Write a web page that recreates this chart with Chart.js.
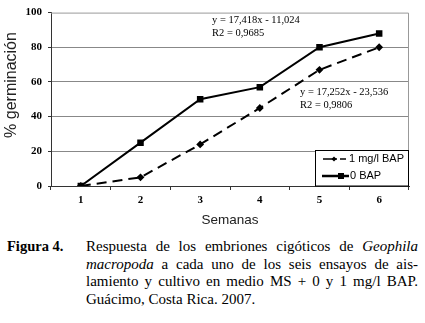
<!DOCTYPE html>
<html>
<head>
<meta charset="utf-8">
<script src="https://cdn.jsdelivr.net/npm/chart.js@4"></script>
<style>
  body { margin: 0; background: #fff; width: 425px; height: 323px; overflow: hidden; position: relative; }
  #wrap { position: absolute; left: 0; top: 0; width: 425px; height: 230px; }
  #fig { position: absolute; left: 7px; top: 238px; font: bold 14.5px/17.5px "Liberation Serif", serif; }
  #cap { position: absolute; left: 86px; top: 238px; width: 332px; font: 15px/17.5px "Liberation Serif", serif; }
  #cap div { text-align: justify; text-align-last: justify; white-space: nowrap; }
  #cap div:last-child { text-align-last: left; }
</style>
</head>
<body>
<div id="wrap"><canvas id="germChart" width="425" height="230"></canvas></div>
<div id="fig">Figura 4.</div>
<div id="cap">
  <div>Respuesta de los embriones cigóticos de <i>Geophila</i></div>
  <div><i>macropoda</i> a cada uno de los seis ensayos de ais-</div>
  <div>lamiento y cultivo en medio MS + 0 y 1 mg/l BAP.</div>
  <div>Guácimo, Costa Rica. 2007.</div>
</div>
<script>
const semanas = ['1', '2', '3', '4', '5', '6'];
const bap1_data = [0, 5, 24, 45, 67, 80];
const bap0_data = [0, 25, 50, 57, 80, 88];
const series_labels = ['1 mg/l BAP', '0 BAP'];
const y_title = '% germinación';
const eq_bap0 = ['y = 17,418x - 11,024', 'R2 = 0,9685'];
const eq_bap1 = ['y = 17,252x - 23,536', 'R2 = 0,9806'];

const extras = {
    id: 'extras',
    afterDatasetsDraw(chart) {
        const c = chart.ctx;
        const a = chart.chartArea;
        c.save();
        // plot frame
        c.strokeStyle = '#999';
        c.lineWidth = 1;
        c.beginPath();
        c.moveTo(a.left, a.top + 0.5);
        c.lineTo(a.right - 0.5, a.top + 0.5);
        c.lineTo(a.right - 0.5, a.bottom);
        c.stroke();

        // y title (sits a bit above centre in the original)
        c.save();
        c.translate(12, 85);
        c.rotate(-Math.PI / 2);
        c.fillStyle = '#222';
        c.font = '16px "Liberation Sans", Arial, sans-serif';
        c.textAlign = 'center';
        c.textBaseline = 'middle';
        c.fillText(y_title, 0, 0);
        c.restore();

        // regression equations
        c.fillStyle = '#000';
        c.font = '10.5px "Liberation Serif", serif';
        c.textBaseline = 'middle';
        c.fillText(eq_bap0[0], 212, 20);
        c.fillText(eq_bap0[1], 212, 33);
        c.fillText(eq_bap1[0], 300, 92);
        c.fillText(eq_bap1[1], 300, 105);

        // legend
        const bx = 315.5, by = 150.5, bw = a.right - 0.5 - bx, bh = a.bottom - by;
        c.fillStyle = '#fff';
        c.fillRect(bx, by, bw, bh);
        c.strokeStyle = '#000';
        c.lineWidth = 1;
        c.strokeRect(bx, by, bw, bh);
        c.font = '11px "Liberation Sans", Arial, sans-serif';
        const rows = [159, 176];
        chart.data.datasets.forEach((ds, i) => {
            const y = rows[i];
            c.strokeStyle = '#000';
            c.fillStyle = '#000';
            if (i === 0) {
                c.lineWidth = 1.5;
                c.beginPath();
                c.moveTo(323, y); c.lineTo(337, y);
                c.moveTo(340, y); c.lineTo(346, y);
                c.stroke();
                c.beginPath();
                c.moveTo(334, y - 2.5); c.lineTo(336.5, y); c.lineTo(334, y + 2.5); c.lineTo(331.5, y);
                c.closePath(); c.fill();
                c.fillText(ds.label, 349, y);
            } else {
                c.lineWidth = 2.5;
                c.beginPath();
                c.moveTo(322, y); c.lineTo(349, y);
                c.stroke();
                c.fillRect(338, y - 3, 6, 6);
                c.fillText(ds.label, 350, y);
            }
        });
        c.restore();
    }
};

const ctx = document.getElementById('germChart').getContext('2d');
const germChart = new Chart(ctx, {
    type: 'line',
    data: {
        labels: semanas,
        datasets: [{
            label: series_labels[0],
            data: bap1_data,
            borderColor: '#000',
            backgroundColor: '#000',
            borderWidth: 2,
            borderDash: [10, 6],
            pointStyle: 'rectRot',
            pointRadius: 2.5,
            tension: 0
        }, {
            label: series_labels[1],
            data: bap0_data,
            borderColor: '#000',
            backgroundColor: '#000',
            borderWidth: 2,
            pointStyle: 'rect',
            pointRadius: 3.2,
            tension: 0
        }]
    },
    options: {
        responsive: false,
        animation: false,
        layout: { padding: { top: 12, right: 16, left: 0, bottom: 0 } },
        plugins: { legend: { display: false }, tooltip: { enabled: false } },
        scales: {
            x: {
                offset: true,
                grid: { offset: true, drawOnChartArea: false, drawTicks: true, tickLength: 4, color: '#333' },
                border: { color: '#333', width: 1 },
                ticks: { color: '#000', padding: 4, font: { family: '"Liberation Serif", serif', size: 11, weight: 'bold' } },
                title: { display: true, text: 'Semanas', color: '#222', padding: { top: 0, bottom: 2 }, font: { family: '"Liberation Sans", Arial, sans-serif', size: 13.5 } },
                afterFit: (scale) => { scale.height = 44; }
            },
            y: {
                min: 0,
                max: 100,
                ticks: { stepSize: 20, color: '#000', padding: 6, font: { family: '"Liberation Serif", serif', size: 11, weight: 'bold' } },
                grid: {
                    color: (c) => (c.tick && c.tick.value > 0 && c.tick.value < 100) ? '#888' : 'rgba(0,0,0,0)',
                    borderDash: [3, 3],
                    tickLength: 3,
                    tickColor: '#333'
                },
                border: { color: '#333', width: 1 },
                afterFit: (scale) => { scale.width = 51; }
            }
        }
    },
    plugins: [extras]
});
</script>
</body>
</html>
